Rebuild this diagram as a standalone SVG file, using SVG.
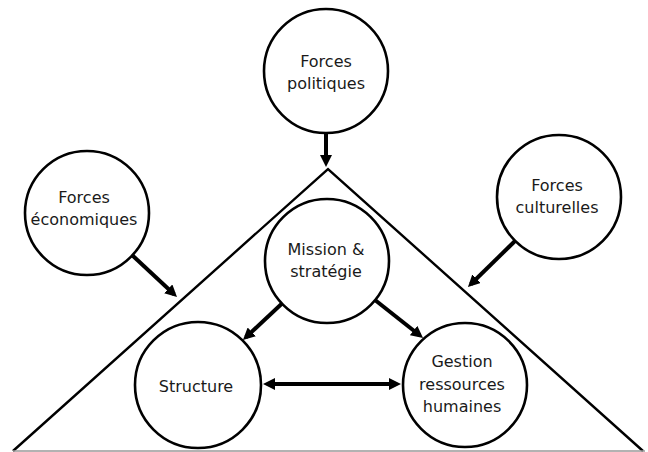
<svg xmlns="http://www.w3.org/2000/svg" width="648" height="452" viewBox="0 0 648 452">
<style>
.node circle{fill:#fff;stroke:#000;stroke-width:2.6}
.node text{font-family:"DejaVu Sans",Verdana,sans-serif;font-size:16px;fill:#1a1a1a;text-anchor:middle}
.arrow{stroke:#000;stroke-width:4;fill:none}
.tri{stroke:#000;stroke-width:2.4;fill:none}
</style>
<defs>
<marker id="ah" viewBox="0 0 12 12" markerWidth="12" markerHeight="12" refX="8" refY="6" markerUnits="userSpaceOnUse" orient="auto-start-reverse">
<path d="M0,0 L12,6 L0,12 z" fill="#000"/>
</marker>
</defs>
<rect width="648" height="452" fill="#fff"/>
<g id="triangle">
<polyline class="tri" points="13,451 328,169 643,451"/>
<line x1="13" y1="451" x2="645" y2="451" stroke="#999" stroke-width="1.5"/>
</g>
<g id="connectors">
<line class="arrow" x1="326" y1="133" x2="326" y2="163" marker-end="url(#ah)"/>
<line class="arrow" x1="132" y1="255" x2="174.1" y2="294.3" marker-end="url(#ah)"/>
<line class="arrow" x1="515" y1="241" x2="470.8" y2="284.2" marker-end="url(#ah)"/>
<line class="arrow" x1="282" y1="303.5" x2="245.9" y2="337.3" marker-end="url(#ah)"/>
<line class="arrow" x1="375" y1="300" x2="419.9" y2="335.5" marker-end="url(#ah)"/>
<line class="arrow" x1="267" y1="384" x2="397" y2="384" marker-start="url(#ah)" marker-end="url(#ah)"/>
</g>
<g id="politiques" class="node">
<circle cx="326" cy="71" r="62"/>
<text x="326" y="67">Forces</text>
<text x="326" y="89">politiques</text>
</g>
<g id="economiques" class="node">
<circle cx="87" cy="213" r="62"/>
<text x="84" y="203">Forces</text>
<text x="84" y="225">économiques</text>
</g>
<g id="culturelles" class="node">
<circle cx="559" cy="197" r="62"/>
<text x="557" y="191">Forces</text>
<text x="557" y="213">culturelles</text>
</g>
<g id="mission" class="node">
<circle cx="327" cy="261" r="62"/>
<text x="326" y="255">Mission &amp;</text>
<text x="326" y="277">stratégie</text>
</g>
<g id="structure" class="node">
<circle cx="198" cy="385" r="63"/>
<text x="196" y="392">Structure</text>
</g>
<g id="gestion" class="node">
<circle cx="465" cy="385" r="62"/>
<text x="462" y="367">Gestion</text>
<text x="462" y="390">ressources</text>
<text x="462" y="412">humaines</text>
</g>
</svg>
